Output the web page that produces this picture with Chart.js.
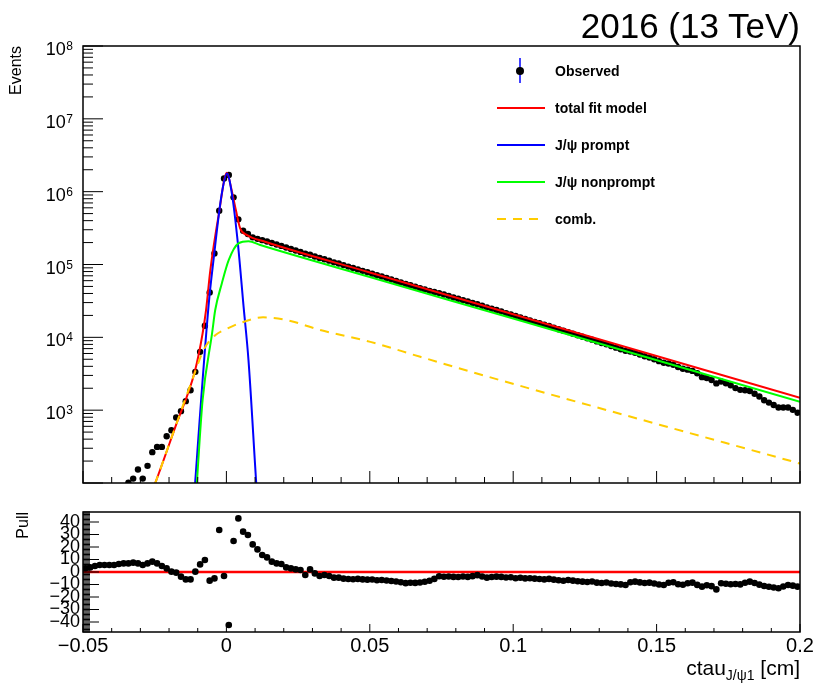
<!DOCTYPE html>
<html>
<head>
<meta charset="utf-8">
<title>ctau J/psi fit 2016</title>
<script src="https://cdn.jsdelivr.net/npm/chart.js@4.4.1/dist/chart.umd.min.js"></script>
<style>
  html, body { margin: 0; padding: 0; background: #fff; }
  body { width: 820px; height: 684px; position: relative; overflow: hidden;
         font-family: "Liberation Sans", Arial, Helvetica, sans-serif; color: #000; }
  canvas { position: absolute; left: 0; }
  #fitChart { top: 0; }
  #pullChart { top: 500px; }
  #energy { position: absolute; right: 20px; top: 8px; font-size: 35px; line-height: 35px; white-space: nowrap; }
  #xTitle { position: absolute; right: 20px; top: 657px; font-size: 21px; line-height: 21px; white-space: nowrap; }
  #xTitle sub { font-size: 14px; vertical-align: baseline; position: relative; top: 5px; }
  .legRow { position: absolute; left: 497px; height: 20px; display: flex; align-items: center;
            font-weight: bold; font-size: 14px; white-space: nowrap; }
  .legRow svg { width: 48px; height: 20px; margin-right: 10px; overflow: visible; }
</style>
</head>
<body>
<canvas id="fitChart" width="820" height="500"></canvas>
<canvas id="pullChart" width="820" height="184"></canvas>
<div id="energy">2016 (13 TeV)</div>
<div id="xTitle">ctau<sub>J/ψ1</sub> [cm]</div>
<div id="legend"></div>
<script>
// binning of the ctau histogram
const nBins = 150;
const ctauRange = [-0.05, 0.2];

// observed events per bin (bins below 100 events are off the plot)
const observedCounts = [
  null, null, null, null, null, null, null, null, null, 101,
  115, 153, 115, 172, 265, 313, 313, 439, 531, 794,
  970, 1330, 1880, 3360, 6320, 14400, 41400, 142000, 547000, 1520000,
  1690000, 835000, 417000, 290000, 262000, 236000, 225000, 216000, 207000, 197000,
  188000, 180000, 171000, 163000, 156000, 149000, 141000, 136000, 129000, 123000,
  118000, 113000, 107000, 103000, 98100, 93600, 89500, 85700, 81800, 78300,
  74900, 71400, 68300, 65300, 62300, 59500, 56600, 54100, 51800, 49400,
  47400, 45400, 43500, 41900, 40500, 38700, 37100, 35300, 33800, 32400,
  31000, 29700, 28500, 27100, 25800, 24700, 23700, 22600, 21500, 20600,
  19600, 18800, 17900, 17100, 16300, 15600, 14900, 14300, 13600, 12900,
  12300, 11800, 11200, 10700, 10200, 9680, 9290, 8790, 8360, 8020,
  7590, 7220, 6870, 6520, 6380, 6120, 5810, 5510, 5280, 4990,
  4710, 4470, 4370, 4200, 3910, 3710, 3600, 3460, 3210, 2840,
  2770, 2600, 2330, 2480, 2340, 2200, 2010, 1900, 1880, 1830,
  1680, 1540, 1370, 1270, 1180, 1090, 1090, 1090, 1010, 923
];

// pull of each bin w.r.t. the total fit
const pullValues = [
  3.0, 3.7, 4.8, 5.6, 5.6, 5.6, 5.6, 6.4, 6.9, 6.9,
  7.5, 6.9, 5.6, 6.9, 8.3, 6.9, 4.8, 2.9, 0.3, -0.5,
  -3.7, -5.9, -5.9, 0.3, 6.1, 9.6, -6.9, -5.1, 33.6, -3.2,
  -42.4, 24.8, 42.9, 32.3, 29.6, 22.1, 18.1, 13.6, 11.7, 8.3,
  6.9, 6.4, 3.7, 2.9, 2.1, 1.6, -2.4, 2.1, -1.1, -3.2,
  -2.4, -3.2, -4.5, -4.5, -5.3, -5.6, -5.8, -5.5, -5.9, -6.1,
  -6.0, -6.6, -6.4, -6.8, -7.2, -7.6, -8.2, -8.9, -8.6, -8.7,
  -8.4, -7.8, -7.0, -5.5, -3.4, -3.8, -3.6, -3.9, -4.0, -3.6,
  -3.9, -3.3, -2.5, -3.6, -4.5, -4.0, -3.7, -3.9, -4.4, -4.2,
  -5.0, -4.6, -5.1, -5.0, -5.3, -5.6, -5.9, -5.5, -6.1, -6.6,
  -7.0, -6.4, -6.9, -7.4, -7.7, -8.0, -7.6, -8.5, -8.8, -8.4,
  -9.2, -9.6, -9.9, -10.4, -8.2, -7.7, -8.3, -8.8, -8.5, -9.2,
  -10.0, -10.4, -8.6, -8.2, -9.8, -10.2, -9.0, -8.5, -10.3, -11.7,
  -10.6, -11.3, -13.9, -9.0, -9.4, -9.8, -9.6, -9.9, -8.6, -7.7,
  -8.8, -10.1, -11.2, -11.8, -12.4, -13.0, -11.6, -10.4, -10.9, -11.7
];

// fit model curves (ctau [cm], events per bin)
const totalFitX = [-0.027, -0.0248, -0.0178, -0.0109, -0.0083, -0.0071, -0.0056, -0.0027, 0.0002, 0.0013, 0.0033, 0.0048, 0.0072, 0.0135, 0.05, 0.1, 0.2];
const totalFitY = [60, 100, 590, 3540, 11300, 23600, 83800, 477000, 1820000, 1300000, 559000, 313000, 253000, 205000, 77800, 20700, 1475];

const promptX = [-0.0118, -0.0109, -0.0062, -0.0045, -0.0016, 0.0002, 0.0019, 0.0040, 0.0060, 0.0077, 0.0104, 0.0113];
const promptY = [30, 100, 27700, 115000, 948000, 1780000, 948000, 195000, 26200, 4860, 100, 30];

const nonpromptX = [-0.0108, -0.0103, -0.0083, -0.0050, -0.0039, -0.0016, 0.0008, 0.0042, 0.0077, 0.0118, 0.05, 0.1, 0.2];
const nonpromptY = [50, 100, 1370, 11300, 23700, 55000, 115000, 195000, 209000, 185000, 67300, 18100, 1300];

const combX = [-0.027, -0.0248, -0.0178, -0.0109, -0.0080, -0.0039, 0.0, 0.0048, 0.0128, 0.0212, 0.0327, 0.0502, 0.0676, 0.0955, 0.2];
const combY = [60, 100, 590, 3360, 6670, 10700, 13000, 15700, 18800, 17200, 12600, 8670, 5400, 2580, 185];

// zero line of the pull panel
const pullLineX = [-0.05, 0.2];
const pullLineY = [0, 0];

// axis ticks
const eventTicks = [1e3, 1e4, 1e5, 1e6, 1e7, 1e8];
const eventTickExponents = ['3', '4', '5', '6', '7', '8'];
const pullTicks = [-40, -30, -20, -10, 0, 10, 20, 30, 40];
const pullTickLabels = ['−40', '−30', '−20', '−10', '0', '10', '20', '30', '40'];
const ctauTicks = [-0.05, 0, 0.05, 0.1, 0.15, 0.2];
const ctauTickLabels = ['−0.05', '0', '0.05', '0.1', '0.15', '0.2'];

const binWidth = (ctauRange[1] - ctauRange[0]) / nBins;
const binCenters = observedCounts.map((_, i) => ctauRange[0] + (i + 0.5) * binWidth);
const toPoints = (xs, ys) => xs.map((x, i) => ({ x: x, y: ys[i] }));

const FONT = '"Liberation Sans", Arial, Helvetica, sans-serif';
Chart.defaults.font.family = FONT;
Chart.defaults.color = '#000';

// box around the plot area with ROOT style tick marks pointing inwards,
// plus 10^n labels with a raised exponent for the log axis
const rootFrame = {
  id: 'rootFrame',
  afterDatasetsDraw(chart, args, opts) {
    const { ctx, chartArea: area } = chart;
    const xs = chart.scales.x, ys = chart.scales.y;
    ctx.save();
    ctx.strokeStyle = '#000';
    ctx.lineWidth = 1;
    ctx.beginPath();
    for (const [v, len] of opts.xMarks) {
      if (v < xs.min - 1e-9 || v > xs.max + 1e-9) continue;
      const px = xs.getPixelForValue(v);
      ctx.moveTo(px, area.bottom);
      ctx.lineTo(px, area.bottom - len);
    }
    for (const [v, len] of opts.yMarks) {
      if (v < ys.min - 1e-9 || v > ys.max + 1e-9) continue;
      const py = ys.getPixelForValue(v);
      ctx.moveTo(area.left, py);
      ctx.lineTo(area.left + len, py);
    }
    ctx.stroke();
    ctx.lineWidth = 1.5;
    ctx.strokeRect(area.left, area.top, area.right - area.left, area.bottom - area.top);

    if (opts.powerLabels) {
      const right = area.left - 10;
      ctx.fillStyle = '#000';
      ctx.textAlign = 'right';
      ctx.textBaseline = 'alphabetic';
      opts.powerLabels.values.forEach((v, i) => {
        const py = ys.getPixelForValue(v);
        const exp = opts.powerLabels.exponents[i];
        ctx.font = '12px ' + FONT;
        const expWidth = ctx.measureText(exp).width;
        ctx.fillText(exp, right, py + 4);
        ctx.font = '18px ' + FONT;
        ctx.fillText('10', right - expWidth - 0.5, py + 9);
      });
    }
    ctx.restore();
  }
};
Chart.register(rootFrame);

function linearMarks(lo, hi, step, majorEvery, majorLen, minorLen) {
  const marks = [];
  const n = Math.round((hi - lo) / step);
  for (let k = 0; k <= n; k++) {
    marks.push([lo + k * step, k % majorEvery === 0 ? majorLen : minorLen]);
  }
  return marks;
}

function logMarks(minExp, maxExp, majorLen, minorLen) {
  const marks = [];
  for (let e = minExp; e < maxExp; e++) {
    for (let k = 1; k <= 9; k++) marks.push([k * Math.pow(10, e), k === 1 ? majorLen : minorLen]);
  }
  marks.push([Math.pow(10, maxExp), majorLen]);
  return marks;
}

const fixTicks = (values) => (scale) => { scale.ticks = values.map(v => ({ value: v })); };

// upper panel: data and fit components
const fitChart = new Chart(document.getElementById('fitChart'), {
  type: 'scatter',
  data: {
    datasets: [
      {
        label: 'Observed',
        data: toPoints(binCenters, observedCounts),
        backgroundColor: '#000',
        borderWidth: 0,
        pointRadius: 3.2,
        order: 5,
        clip: 0
      },
      {
        label: 'total fit model',
        data: toPoints(totalFitX, totalFitY),
        showLine: true, pointRadius: 0, borderColor: '#ff0000', borderWidth: 2,
        cubicInterpolationMode: 'monotone', order: 4, clip: 0
      },
      {
        label: 'J/ψ prompt',
        data: toPoints(promptX, promptY),
        showLine: true, pointRadius: 0, borderColor: '#0000ff', borderWidth: 2,
        cubicInterpolationMode: 'monotone', order: 3, clip: 0
      },
      {
        label: 'J/ψ nonprompt',
        data: toPoints(nonpromptX, nonpromptY),
        showLine: true, pointRadius: 0, borderColor: '#00ff00', borderWidth: 2,
        cubicInterpolationMode: 'monotone', order: 2, clip: 0
      },
      {
        label: 'comb.',
        data: toPoints(combX, combY),
        showLine: true, pointRadius: 0, borderColor: '#ffcc00', borderWidth: 2,
        borderDash: [9, 7], cubicInterpolationMode: 'monotone', order: 1, clip: 0
      }
    ]
  },
  options: {
    responsive: false,
    animation: false,
    events: [],
    layout: { padding: { left: 0, right: 20, top: 46, bottom: 17 } },
    plugins: {
      legend: { display: false },
      tooltip: { enabled: false },
      rootFrame: {
        xMarks: linearMarks(-0.05, 0.2, 0.01, 5, 12, 6),
        yMarks: logMarks(2, 8, 20, 10),
        powerLabels: { values: eventTicks, exponents: eventTickExponents }
      }
    },
    scales: {
      x: { type: 'linear', min: ctauRange[0], max: ctauRange[1], display: false },
      y: {
        type: 'logarithmic',
        min: 100,
        max: 1e8,
        afterBuildTicks: fixTicks(eventTicks),
        afterFit(scale) { scale.width = 83; scale.paddingTop = 0; scale.paddingBottom = 0; },
        grid: { display: false, drawTicks: false },
        border: { display: false },
        ticks: { display: false },
        title: {
          display: true,
          text: 'Events',
          align: 'end',
          font: { size: 16 },
          padding: { top: 7, bottom: 0 }
        }
      }
    }
  }
});

// lower panel: pulls
new Chart(document.getElementById('pullChart'), {
  type: 'scatter',
  data: {
    datasets: [
      {
        label: 'pull',
        data: toPoints(binCenters, pullValues),
        backgroundColor: '#000',
        borderWidth: 0,
        pointRadius: 3.3,
        order: 1,
        clip: 0
      },
      {
        label: 'zero',
        data: toPoints(pullLineX, pullLineY),
        showLine: true, pointRadius: 0, borderColor: '#ff0000', borderWidth: 2.5,
        order: 2, clip: 0
      }
    ]
  },
  options: {
    responsive: false,
    animation: false,
    events: [],
    layout: { padding: { left: 0, right: 20, top: 12, bottom: 0 } },
    plugins: {
      legend: { display: false },
      tooltip: { enabled: false },
      rootFrame: {
        xMarks: linearMarks(-0.05, 0.2, 0.01, 5, 8, 4),
        yMarks: linearMarks(-50, 50, 1, 10, 16, 7)
      }
    },
    scales: {
      x: {
        type: 'linear',
        min: ctauRange[0],
        max: ctauRange[1],
        afterBuildTicks: fixTicks(ctauTicks),
        afterFit(scale) { scale.height = 52; scale.paddingLeft = 0; scale.paddingRight = 0; },
        grid: { display: false, drawTicks: false },
        border: { display: false },
        ticks: {
          autoSkip: false,
          maxRotation: 0,
          padding: 2,
          font: { size: 20 },
          callback: (value, index) => ctauTickLabels[index]
        }
      },
      y: {
        type: 'linear',
        min: -48,
        max: 48,
        afterBuildTicks: fixTicks(pullTicks),
        afterFit(scale) { scale.width = 83; scale.paddingTop = 0; scale.paddingBottom = 0; },
        grid: { display: false, drawTicks: false },
        border: { display: false },
        ticks: {
          autoSkip: false,
          padding: 3,
          font: { size: 18 },
          callback: (value, index) => pullTickLabels[index]
        },
        title: {
          display: true,
          text: 'Pull',
          align: 'end',
          font: { size: 16 },
          padding: { top: 14, bottom: 0 }
        }
      }
    }
  }
});

// legend in the upper right corner of the fit panel, built from the datasets
function buildLegend(chart) {
  const box = document.getElementById('legend');
  const svgNS = 'http://www.w3.org/2000/svg';
  chart.data.datasets.forEach((ds, k) => {
    const row = document.createElement('div');
    row.className = 'legRow';
    row.style.top = (61 + 37 * k) + 'px';
    const svg = document.createElementNS(svgNS, 'svg');
    if (ds.showLine) {
      const line = document.createElementNS(svgNS, 'line');
      line.setAttribute('x1', 0); line.setAttribute('x2', 48);
      line.setAttribute('y1', 10); line.setAttribute('y2', 10);
      line.setAttribute('stroke', ds.borderColor);
      line.setAttribute('stroke-width', ds.borderWidth);
      if (ds.borderDash) line.setAttribute('stroke-dasharray', ds.borderDash.join(' '));
      svg.appendChild(line);
    } else {
      const bar = document.createElementNS(svgNS, 'line');
      bar.setAttribute('x1', 23); bar.setAttribute('x2', 23);
      bar.setAttribute('y1', -3); bar.setAttribute('y2', 22);
      bar.setAttribute('stroke', '#0000ff');
      bar.setAttribute('stroke-width', 1.5);
      svg.appendChild(bar);
      const dot = document.createElementNS(svgNS, 'circle');
      dot.setAttribute('cx', 23); dot.setAttribute('cy', 10); dot.setAttribute('r', 4);
      dot.setAttribute('fill', ds.backgroundColor);
      svg.appendChild(dot);
    }
    row.appendChild(svg);
    const text = document.createElement('span');
    text.textContent = ds.label;
    row.appendChild(text);
    box.appendChild(row);
  });
}
buildLegend(fitChart);
</script>
</body>
</html>
